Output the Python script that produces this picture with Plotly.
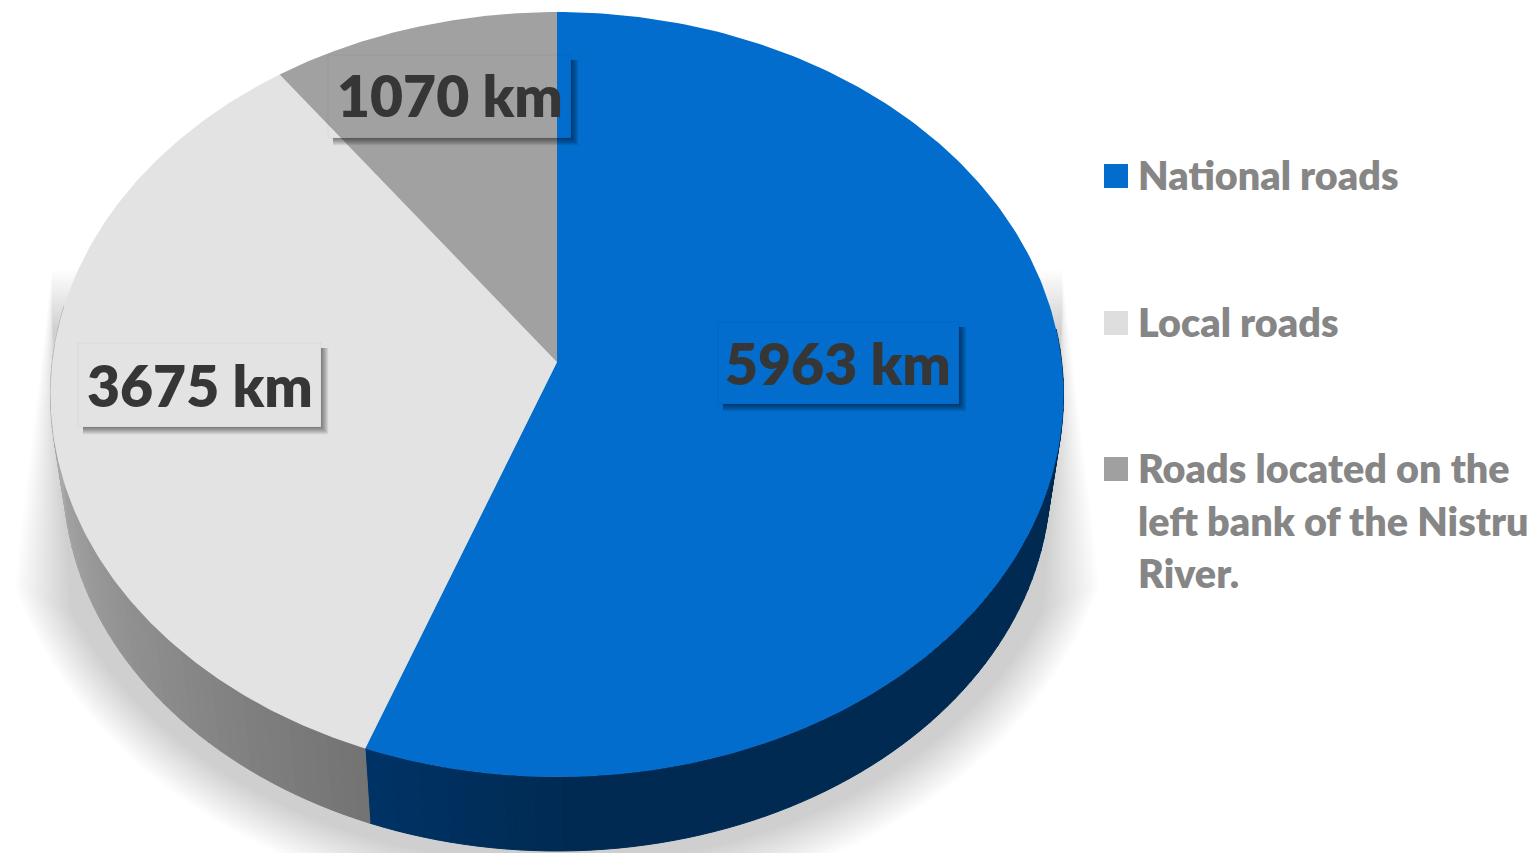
import numpy as np
import plotly.graph_objects as go

# ---- data ----
values = [5963, 3675, 1070]
value_labels = ["5963 km", "3675 km", "1070 km"]
legend_names = ["National roads", "Local roads", "Roads located on the left bank of the Nistru River."]
legend_lines = [["National roads"], ["Local roads"], ["Roads located on the", "left bank of the Nistru", "River."]]
top_colors = ["#026dcc", "#e3e3e3", "#a1a1a1"]
legend_colors = ["#026dcc", "#dedede", "#a0a0a0"]

# ---- perspective of the disc (pixels of the 1532x853 page) ----
APEX_X, APEX_Y = 557.0, 362.0
K, P_, S = 0.085, 379.7, 504.7
WALL_SCALE, WALL_DY = 0.974, 84.8
FONT = "Lato"


def top(theta):
    """theta: clockwise radians from 12 o'clock."""
    u, v = np.sin(theta), np.cos(theta)
    w = 1 + K * v
    return APEX_X + S * u / w, APEX_Y - P_ * v / w


def bottom(theta):
    x, y = top(theta)
    return APEX_X + (x - APEX_X) * WALL_SCALE, APEX_Y + (y - APEX_Y) * WALL_SCALE + WALL_DY


def poly(x, y, color, line=None):
    return go.Scatter(x=list(x), y=list(y), mode="lines", fill="toself", fillcolor=color,
                      line=dict(width=1 if line else 0, color=line or color),
                      hoverinfo="skip", showlegend=False)


def lerp_hex(c1, c2, t):
    a = [int(c1[i:i + 2], 16) for i in (1, 3, 5)]
    b = [int(c2[i:i + 2], 16) for i in (1, 3, 5)]
    return "#%02x%02x%02x" % tuple(int(round(p + (q - p) * t)) for p, q in zip(a, b))


traces = []

# soft shadow under the disc
N = 24
for k in range(N):
    t = 1 - k / (N - 1)          # outermost first
    a, b = 520 + 42 * t, 395 + 47 * t
    dy = 115 + 25 * (1 - t)
    phi = np.linspace(np.arcsin(dy / b), np.pi - np.arcsin(dy / b), 120)
    ex = 557 - a * np.cos(phi)
    ey = 470 + b * np.sin(phi)
    top_y = 270 + 60 * (1 - t)
    traces.append(poly(np.r_[52, ex, 1062, 52], np.r_[top_y, ey, top_y, top_y], "rgba(0,0,0,0.0085)"))

# cumulated angles, clockwise from 12 o'clock
total = sum(values)
edges = np.r_[0, np.cumsum(values)] / total * 2 * np.pi

# side wall, segment by segment for the shading
seg = np.deg2rad(1.5)
th = edges[0] + np.deg2rad(85)
split = edges[1]
while th < np.deg2rad(278):
    th2 = th + seg
    x1, y1 = top(th)
    x2, y2 = top(th2)
    x3, y3 = bottom(th2)
    x4, y4 = bottom(th)
    mid = (th + th2) / 2
    if mid < split:
        f = np.clip((split - mid) / np.deg2rad(22), 0, 1)
        col = lerp_hex("#003366", "#002a52", f)
    else:
        f = np.clip((mid - split) / np.deg2rad(70), 0, 1)
        col = lerp_hex("#737373", "#b0b0b0", f)
    traces.append(poly([x1, x2, x3, x4, x1], [y1, y2, y3, y4, y1], col, col))
    th = th2

# top faces of the slices
for i, c in enumerate(top_colors):
    ang = np.linspace(edges[i], edges[i + 1], 240)
    x, y = top(ang)
    traces.append(poly(np.r_[APEX_X, x, APEX_X], np.r_[APEX_Y, y, APEX_Y], c))

# drop shadows of the value labels (outside edges only)
boxes = [(718, 322, 959, 404), (78, 343, 321, 427), (328, 55, 571, 138)]
label_shift = [(-1, 1), (0, 1), (0, -1)]
for (x0, y0, x1, y1) in boxes:
    for d in np.arange(1, 7.51, 0.5):
        traces.append(poly([x1, x1 + d, x1 + d, x0 + 5, x0 + 5, x1, x1],
                           [y0 + 5, y0 + 5, y1 + d, y1 + d, y1, y1, y0 + 5],
                           "rgba(0,0,0,0.036)"))
    traces.append(go.Scatter(x=[x0, x1, x1, x0, x0], y=[y0, y0, y1, y1, y0], mode="lines",
                             line=dict(width=1, color="rgba(0,0,0,0.04)"),
                             hoverinfo="skip", showlegend=False))

# legend swatches
SWATCH_X = 1116
SWATCH_Y = [176, 323, 469]
for name, c, yy in zip(legend_names, legend_colors, SWATCH_Y):
    traces.append(go.Scatter(x=[SWATCH_X], y=[yy], mode="markers", name=name,
                             marker=dict(symbol="square", size=24, color=c, line=dict(width=0)),
                             hoverinfo="skip", showlegend=False))

annotations = []
for (x0, y0, x1, y1), lab, (sx, sy) in zip(boxes, value_labels, label_shift):
    annotations.append(dict(x=(x0 + x1) / 2 + sx, y=(y0 + y1) / 2 + sy - 1, text=lab, showarrow=False,
                            font=dict(family=FONT, size=57, color="#363636", weight=800)))

LINE_H = 52.5
for lines, yy in zip(legend_lines, SWATCH_Y):
    for j, line in enumerate(lines):
        annotations.append(dict(x=1136, y=yy - 1.5 + j * LINE_H, text=line, showarrow=False, xanchor="left",
                                font=dict(family=FONT, size=39.5, color="#868686", weight=800)))

fig = go.Figure(traces)
fig.update_layout(
    width=1532, height=853, margin=dict(l=0, r=0, t=0, b=0), autosize=False,
    paper_bgcolor="white", plot_bgcolor="white", hovermode=False, showlegend=False,
    xaxis=dict(range=[0, 1532], visible=False, fixedrange=True),
    yaxis=dict(range=[853, 0], visible=False, fixedrange=True),
    annotations=annotations,
)
fig.write_html("out.html", config={"displayModeBar": False},
               post_script="document.body.style.margin='0';")
